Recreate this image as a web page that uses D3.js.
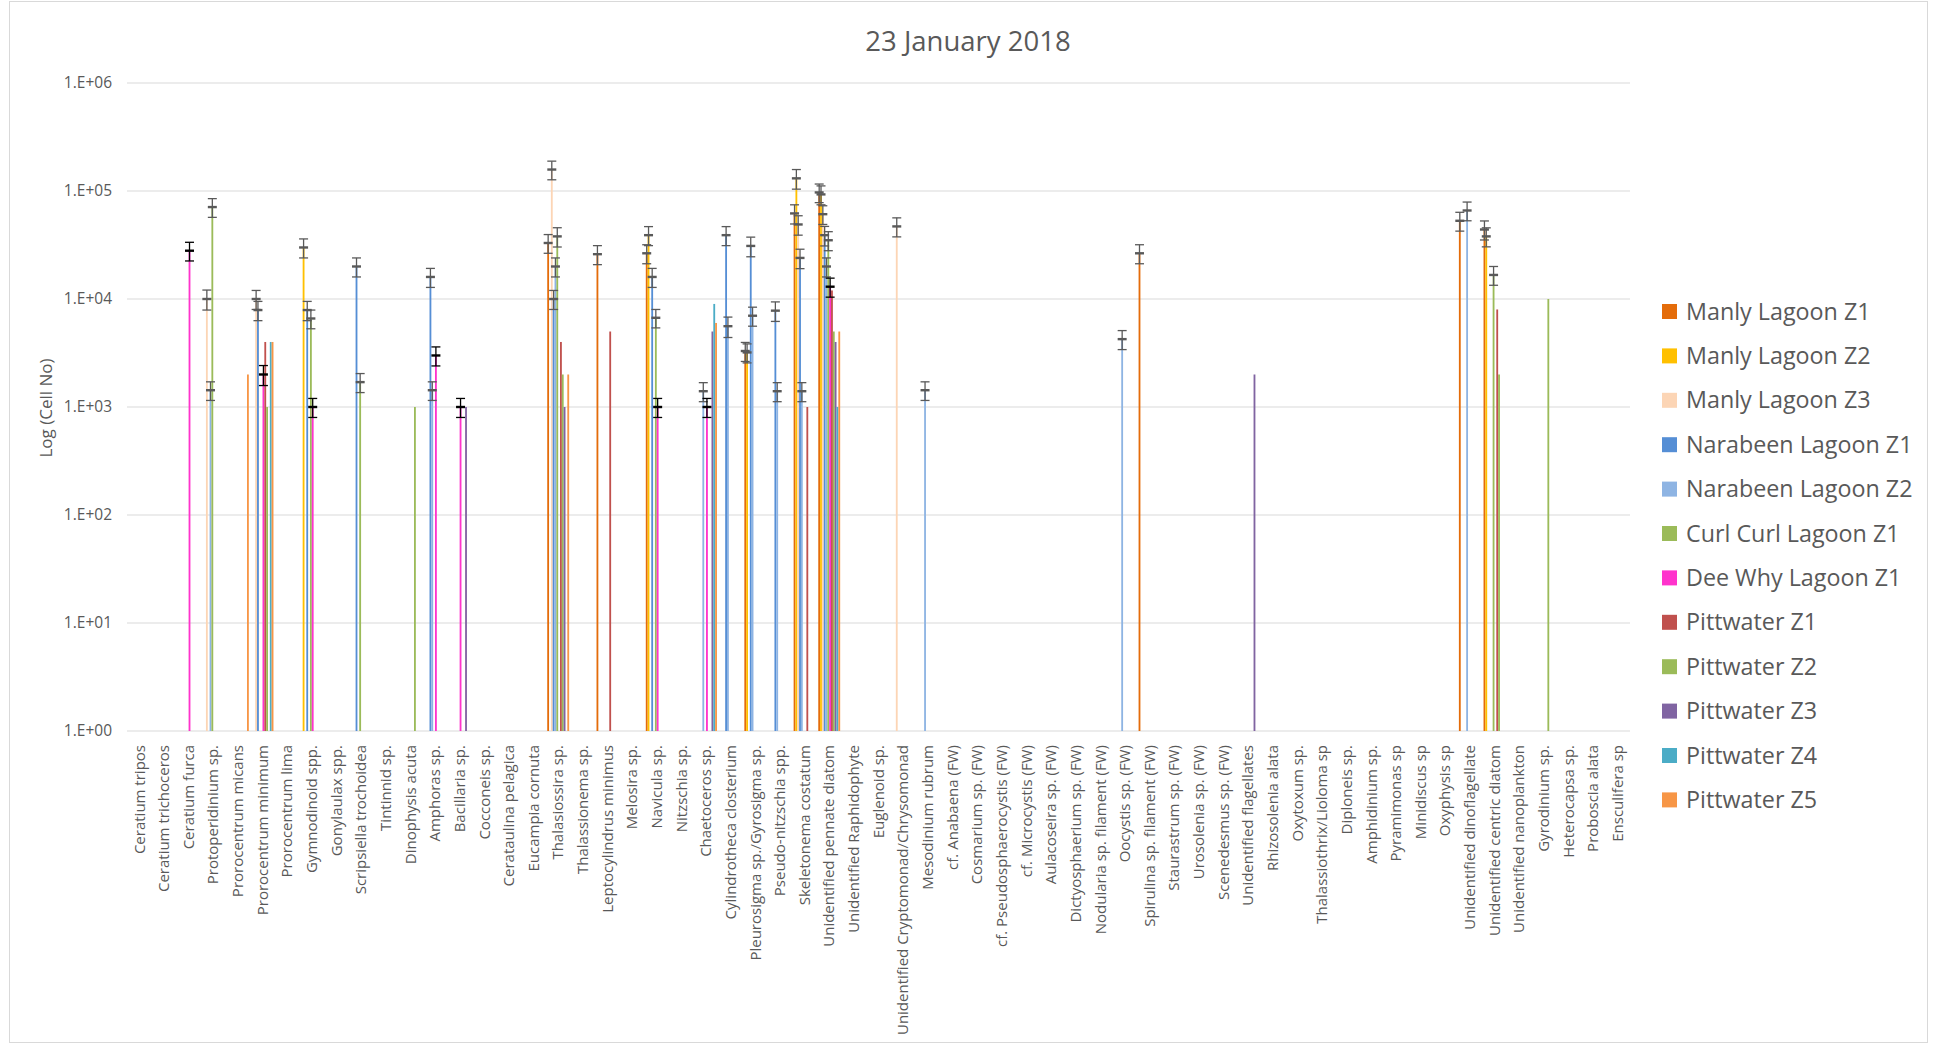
<!DOCTYPE html>
<html>
<head>
<meta charset="utf-8">
<title>23 January 2018</title>
<script src="https://cdn.jsdelivr.net/npm/d3@7"></script>
<style>
  body { margin: 0; background: #ffffff; }
  svg { display: block; }
  text { font-family: "Open Sans", "Noto Sans", sans-serif; fill: #595959; }
</style>
</head>
<body>
<svg id="chart" width="1933" height="1045"></svg>
<script>
// Taxa shown along the category axis
const categories = [
  "Ceratium tripos", "Ceratium trichoceros", "Ceratium furca", "Protoperidinium sp.",
  "Prorocentrum micans", "Prorocentrum minimum", "Prorocentrum lima", "Gymnodinoid spp.",
  "Gonylaulax spp.", "Scripsiella trochoidea", "Tintinnid sp.", "Dinophysis acuta",
  "Amphoras sp.", "Bacillaria sp.", "Cocconeis sp.", "Cerataulina pelagica",
  "Eucampia cornuta", "Thalasiossira sp.", "Thalassionema sp.", "Leptocylindrus minimus",
  "Melosira sp.", "Navicula sp.", "Nitzschia sp.", "Chaetoceros sp.",
  "Cylindrotheca closterium", "Pleurosigma sp./Gyrosigma sp.", "Pseudo-nitzschia spp.", "Skeletonema costatum",
  "Unidentified pennate diatom", "Unidentified Raphidophyte", "Euglenoid sp.", "Unidentified Cryptomonad/Chrysomonad",
  "Mesodinium rubrum", "cf. Anabaena  (FW)", "Cosmarium sp. (FW)", "cf. Pseudosphaerocystis (FW)",
  "cf. Microcystis (FW)", "Aulacoseira sp. (FW)", "Dictyosphaerium sp. (FW)", "Nodularia sp. filament (FW)",
  "Oocystis sp. (FW)", "Spirulina sp. filament (FW)", "Staurastrum sp. (FW)", "Urosolenia sp. (FW)",
  "Scenedesmus sp. (FW)", "Unidentified flagellates", "Rhizosolenia alata", "Oxytoxum sp.",
  "Thalassiothrix/Lioloma sp", "Diploneis sp.", "Amphidinium sp.", "Pyramimonas sp",
  "Minidiscus sp", "Oxyphysis sp", "Unidentified dinoflagellate", "Unidentified centric diatom",
  "Unidentified nanoplankton", "Gyrodinium sp.", "Heterocapsa sp.", "Proboscia alata",
  "Ensculifera sp"
];

// Sampling sites (series) and their colours
const seriesNames = [
  "Manly Lagoon Z1", "Manly Lagoon Z2", "Manly Lagoon Z3", "Narabeen Lagoon Z1",
  "Narabeen Lagoon Z2", "Curl Curl Lagoon Z1", "Dee Why Lagoon Z1", "Pittwater Z1",
  "Pittwater Z2", "Pittwater Z3", "Pittwater Z4", "Pittwater Z5"
];
const seriesColors = [
  "#E46C0A", "#FFC000", "#FCD5B5", "#558ED5",
  "#8EB4E3", "#9BBB59", "#FF33CC", "#C0504D",
  "#9BBB59", "#8064A2", "#4BACC6", "#F79646"
];
const errorColors = [
  "#595959", "#595959", "#595959", "#595959",
  "#595959", "#595959", "#000000", "#595959",
  "#595959", "#595959", "#595959", "#595959"
];

// Log axis ticks
const yTickValues = [1, 10, 100, 1000, 10000, 100000, 1000000];
const yTickLabels = ["1.E+00", "1.E+01", "1.E+02", "1.E+03", "1.E+04", "1.E+05", "1.E+06"];

// Cell counts per site: [taxon, cell count, error (±)]
const manlyZ1 = [
  ["Thalasiossira sp.", 33000, 6500],
  ["Leptocylindrus minimus", 26000, 5200],
  ["Navicula sp.", 26500, 5300],
  ["Pleurosigma sp./Gyrosigma sp.", 3300, 660],
  ["Skeletonema costatum", 62000, 12500],
  ["Unidentified pennate diatom", 97000, 19000],
  ["Spirulina sp. filament (FW)", 26500, 5300],
  ["Unidentified dinoflagellate", 53000, 10500],
  ["Unidentified centric diatom", 44000, 8800]
];
const manlyZ2 = [
  ["Gymnodinoid spp.", 30000, 6000],
  ["Navicula sp.", 39000, 7800],
  ["Pleurosigma sp./Gyrosigma sp.", 3200, 640],
  ["Skeletonema costatum", 131000, 27000],
  ["Unidentified pennate diatom", 93000, 18500],
  ["Unidentified centric diatom", 38000, 7600]
];
const manlyZ3 = [
  ["Protoperidinium sp.", 10000, 2100],
  ["Prorocentrum minimum", 10000, 2000],
  ["Thalasiossira sp.", 158000, 31000],
  ["Skeletonema costatum", 49000, 10000],
  ["Unidentified pennate diatom", 61000, 12000],
  ["Unidentified Cryptomonad/Chrysomonad", 47000, 9400]
];
const narabeenZ1 = [
  ["Prorocentrum minimum", 7900, 1600],
  ["Gymnodinoid spp.", 7900, 1600],
  ["Scripsiella trochoidea", 20000, 4000],
  ["Amphoras sp.", 16000, 3200],
  ["Thalasiossira sp.", 10000, 2000],
  ["Navicula sp.", 16000, 3200],
  ["Cylindrotheca closterium", 39000, 7800],
  ["Pleurosigma sp./Gyrosigma sp.", 31000, 6400],
  ["Pseudo-nitzschia spp.", 7800, 1600],
  ["Skeletonema costatum", 24000, 4900],
  ["Unidentified pennate diatom", 39000, 8000]
];
const narabeenZ2 = [
  ["Protoperidinium sp.", 1430, 280],
  ["Amphoras sp.", 1430, 280],
  ["Thalasiossira sp.", 20000, 4000],
  ["Chaetoceros sp.", 1400, 280],
  ["Cylindrotheca closterium", 5600, 1200],
  ["Pleurosigma sp./Gyrosigma sp.", 7000, 1400],
  ["Pseudo-nitzschia spp.", 1400, 280],
  ["Skeletonema costatum", 1400, 280],
  ["Unidentified pennate diatom", 20000, 4000],
  ["Mesodinium rubrum", 1430, 280],
  ["Oocystis sp. (FW)", 4250, 850],
  ["Unidentified dinoflagellate", 66000, 13000]
];
const curlCurlZ1 = [
  ["Protoperidinium sp.", 71000, 14000],
  ["Gymnodinoid spp.", 6600, 1300],
  ["Scripsiella trochoidea", 1700, 340],
  ["Thalasiossira sp.", 38000, 7700],
  ["Navicula sp.", 6700, 1300],
  ["Unidentified pennate diatom", 35000, 7000],
  ["Unidentified centric diatom", 16700, 3300]
];
const deeWhyZ1 = [
  ["Ceratium furca", 28000, 5500],
  ["Prorocentrum minimum", 2000, 420],
  ["Gymnodinoid spp.", 1000, 200],
  ["Amphoras sp.", 3000, 600],
  ["Bacillaria sp.", 1000, 200],
  ["Navicula sp.", 1000, 200],
  ["Chaetoceros sp.", 1000, 200],
  ["Unidentified pennate diatom", 13000, 2600]
];
const pittwaterZ1 = [
  ["Prorocentrum minimum", 4000],
  ["Thalasiossira sp.", 4000],
  ["Leptocylindrus minimus", 5000],
  ["Skeletonema costatum", 1000],
  ["Unidentified pennate diatom", 12000],
  ["Unidentified centric diatom", 8000]
];
const pittwaterZ2 = [
  ["Prorocentrum minimum", 1000],
  ["Dinophysis acuta", 1000],
  ["Thalasiossira sp.", 2000],
  ["Unidentified pennate diatom", 5000],
  ["Unidentified centric diatom", 2000],
  ["Gyrodinium sp.", 10000]
];
const pittwaterZ3 = [
  ["Bacillaria sp.", 1000],
  ["Thalasiossira sp.", 1000],
  ["Chaetoceros sp.", 5000],
  ["Unidentified pennate diatom", 4000],
  ["Unidentified flagellates", 2000]
];
const pittwaterZ4 = [
  ["Prorocentrum minimum", 4000],
  ["Chaetoceros sp.", 9000],
  ["Unidentified pennate diatom", 1000]
];
const pittwaterZ5 = [
  ["Prorocentrum micans", 2000],
  ["Prorocentrum minimum", 4000],
  ["Thalasiossira sp.", 2000],
  ["Chaetoceros sp.", 6000],
  ["Unidentified pennate diatom", 5000]
];

const seriesData = [
  manlyZ1, manlyZ2, manlyZ3, narabeenZ1, narabeenZ2, curlCurlZ1,
  deeWhyZ1, pittwaterZ1, pittwaterZ2, pittwaterZ3, pittwaterZ4, pittwaterZ5
];

// ---- layout ----
const plot = { left: 127, right: 1630, top: 83, bottom: 731 };

const svg = d3.select("#chart");

// outer chart frame
svg.append("rect")
  .attr("x", 9.5).attr("y", 1.5)
  .attr("width", 1918).attr("height", 1041)
  .attr("fill", "#ffffff")
  .attr("stroke", "#d9d9d9").attr("stroke-width", 1);

const x0 = d3.scaleBand()
  .domain(categories)
  .range([plot.left, plot.right])
  .paddingInner(0).paddingOuter(0);

const x1 = d3.scaleBand()
  .domain(seriesNames)
  .range([0, x0.bandwidth()])
  .paddingInner(0).paddingOuter(0.75);

const y = d3.scaleLog()
  .domain([1, 1000000])
  .range([plot.bottom, plot.top]);

// horizontal gridlines
svg.append("g").attr("class", "grid")
  .selectAll("line")
  .data(yTickValues)
  .join("line")
  .attr("x1", plot.left).attr("x2", plot.right)
  .attr("y1", d => y(d)).attr("y2", d => y(d))
  .attr("stroke", "#d9d9d9").attr("stroke-width", 1.2);

// y axis labels
const yAxis = d3.axisLeft(y)
  .tickValues(yTickValues)
  .tickFormat((d, i) => yTickLabels[i])
  .tickSize(0)
  .tickPadding(15);
const gy = svg.append("g")
  .attr("transform", `translate(${plot.left},0)`)
  .call(yAxis);
gy.select(".domain").remove();
gy.selectAll("text")
  .attr("fill", "#595959")
  .style("font-size", "15.5px")
  .style("font-family", "\"Open Sans\", sans-serif");

// category axis labels, rotated to read bottom-up
const xAxis = d3.axisBottom(x0).tickSize(0);
const gx = svg.append("g")
  .attr("transform", `translate(0,${plot.bottom})`)
  .call(xAxis);
gx.select(".domain").remove();
gx.selectAll("text")
  .attr("transform", "rotate(-90)")
  .attr("x", -14)
  .attr("y", 0)
  .attr("dy", "0.35em")
  .style("text-anchor", "end")
  .attr("fill", "#595959")
  .style("font-size", "15px")
  .style("font-family", "\"Open Sans\", sans-serif");

// flatten series into bar records
const bars = [];
seriesData.forEach((rows, si) => {
  rows.forEach(r => {
    bars.push({ series: seriesNames[si], si, cat: r[0], value: r[1], err: r.length > 2 ? r[2] : null });
  });
});

const barG = svg.append("g").attr("class", "bars");
barG.selectAll("rect")
  .data(bars)
  .join("rect")
  .attr("x", d => x0(d.cat) + x1(d.series))
  .attr("width", x1.bandwidth())
  .attr("y", d => y(d.value))
  .attr("height", d => y(1) - y(d.value))
  .attr("fill", d => seriesColors[d.si]);

// error bars with end caps and a mark at the mean
const capHalf = 4.5;
const errG = svg.append("g").attr("class", "errors");
const withErr = bars.filter(d => d.err);
const eb = errG.selectAll("g")
  .data(withErr)
  .join("g")
  .attr("stroke", d => errorColors[d.si]);
const cx = d => x0(d.cat) + x1(d.series) + x1.bandwidth() / 2;
eb.append("line")
  .attr("x1", cx).attr("x2", cx)
  .attr("y1", d => y(d.value + d.err))
  .attr("y2", d => y(Math.max(1, d.value - d.err)))
  .attr("stroke-width", 1.3);
eb.append("line")
  .attr("x1", d => cx(d) - capHalf).attr("x2", d => cx(d) + capHalf)
  .attr("y1", d => y(d.value + d.err)).attr("y2", d => y(d.value + d.err))
  .attr("stroke-width", 1.3);
eb.append("line")
  .attr("x1", d => cx(d) - capHalf).attr("x2", d => cx(d) + capHalf)
  .attr("y1", d => y(Math.max(1, d.value - d.err))).attr("y2", d => y(Math.max(1, d.value - d.err)))
  .attr("stroke-width", 1.3);
eb.append("line")
  .attr("x1", d => cx(d) - capHalf).attr("x2", d => cx(d) + capHalf)
  .attr("y1", d => y(d.value)).attr("y2", d => y(d.value))
  .attr("stroke-width", 2.4);

// title
svg.append("text")
  .attr("x", 968).attr("y", 51)
  .attr("text-anchor", "middle")
  .style("font-size", "27.5px")
  .text("23 January 2018");

// y axis title
svg.append("text")
  .attr("transform", `translate(52,${(plot.top + plot.bottom) / 2 + 1}) rotate(-90)`)
  .attr("text-anchor", "middle")
  .style("font-size", "17px")
  .text("Log (Cell No)");

// legend
const legend = svg.append("g").attr("class", "legend")
  .attr("transform", "translate(1662,311.5)");
const li = legend.selectAll("g")
  .data(seriesNames)
  .join("g")
  .attr("transform", (d, i) => `translate(0,${i * 44.4})`);
li.append("rect")
  .attr("x", 0).attr("y", -7.5)
  .attr("width", 15).attr("height", 15)
  .attr("fill", (d, i) => seriesColors[i]);
li.append("text")
  .attr("x", 24).attr("y", 0)
  .attr("dy", "0.35em")
  .style("font-size", "23.3px")
  .text(d => d);
</script>
</body>
</html>
